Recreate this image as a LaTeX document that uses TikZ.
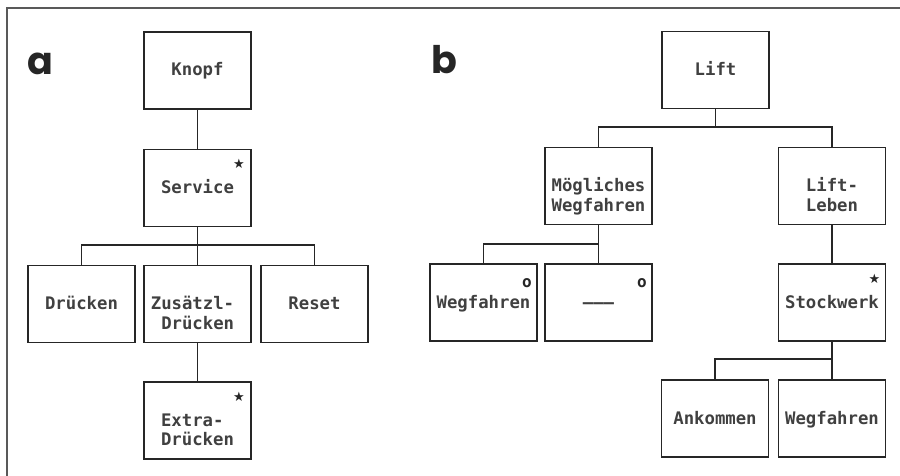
\documentclass[tikz,border=0pt]{standalone}
\usepackage{fontspec}
\setmonofont{DejaVu Sans Mono}
\newfontfamily\panelfont{Poppins}
\newfontfamily\symfont{DejaVu Sans}
\newcommand\firstline{\rule{0pt}{14pt}}
\begin{document}
\begin{tikzpicture}[x=1pt,y=-1pt,
  every node/.style={inner sep=0pt, outer sep=0pt},
  line/.style={line width=1.3pt, draw=black!85},
  box/.style={line, draw, minimum width=107pt, minimum height=77pt},
  txt/.style={font=\ttfamily\bfseries\fontsize{17.3}{19.5}\selectfont, text=black!75, anchor=north, align=left},
  star/.style={font=\symfont\fontsize{13}{13}\selectfont, text=black!85},
  ring/.style={font=\ttfamily\bfseries\fontsize{16}{16}\selectfont, text=black!85},
  panel/.style={font=\panelfont\bfseries\fontsize{38}{38}\selectfont, text=black!85, anchor=base}]
\useasboundingbox (0,0) rectangle (900,476);

% outer frame: top and left edges only
\draw[line width=2pt, draw=black!65] (900,8) -- (7,8) -- (7,476);

% panel letters
\node[panel] (lbla) at (40.5,75) {a};
\node[panel] (lblb) at (444.5,74) {b};

% ---------- tree a ----------
\node[box] (knopf)   at (197.5,70.5) {};
\node[box] (service) at (197.5,188)  {};
\node[box] (druck)   at (81.5,304)   {};
\node[box] (zusatz)  at (197.5,304)  {};
\node[box] (reset)   at (314.5,304)  {};
\node[box] (extra)   at (197.5,420.5){};

\node[txt] (t-knopf)   at ([yshift=-30pt]knopf.north)   {\firstline Knopf};
\node[txt] (t-service) at ([yshift=-30pt]service.north) {\firstline Service};
\node[txt] (t-druck)   at ([yshift=-30pt]druck.north)   {\firstline Drücken};
\node[txt, align=right] (t-zusatz) at ([xshift=-5pt,yshift=-30pt]zusatz.north) {\firstline Zusätzl-\\Drücken};
\node[txt] (t-reset)   at ([yshift=-30pt]reset.north)   {\firstline Reset};
\node[txt] (t-extra)   at ([yshift=-30pt]extra.north)   {\firstline Extra-\\Drücken};

\node[star] (s-service) at ([xshift=-12pt,yshift=-14pt]service.north east) {★};
\node[star] (s-extra)   at ([xshift=-12pt,yshift=-15pt]extra.north east)   {★};

\coordinate (bar-a) at (197.5,245);
\draw[line] (knopf) -- (service);
\draw[line] (service.south) -- (bar-a) -| (druck.north);
\draw[line] (bar-a) -| (reset.north);
\draw[line] (bar-a) -- (zusatz.north);
\draw[line] (zusatz) -- (extra);

% ---------- tree b ----------
\node[box] (lift)  at (715.5,70)    {};
\node[box] (moeg)  at (598.5,186)   {};
\node[box] (leben) at (832,186)     {};
\node[box] (weg1)  at (483.5,302.5) {};
\node[box] (leer)  at (598.5,302.5) {};
\node[box] (stock) at (832,302.5)   {};
\node[box] (ank)   at (715,418.5)   {};
\node[box] (weg2)  at (832,418.5)   {};

\node[txt] (t-lift)  at ([yshift=-30pt]lift.north)  {\firstline Lift};
\node[txt] (t-moeg)  at ([yshift=-30pt]moeg.north)  {\firstline Mögliches\\Wegfahren};
\node[txt] (t-leben) at ([yshift=-30pt]leben.north) {\firstline Lift-\\Leben};
\node[txt] (t-weg1)  at ([yshift=-30pt]weg1.north)  {\firstline Wegfahren};
\node[txt] (t-leer)  at ([yshift=-30pt]leer.north)  {\firstline ———};
\node[txt] (t-stock) at ([yshift=-30pt]stock.north) {\firstline Stockwerk};
\node[txt] (t-ank)   at ([yshift=-30pt]ank.north)   {\firstline Ankommen};
\node[txt] (t-weg2)  at ([yshift=-30pt]weg2.north)  {\firstline Wegfahren};

\node[ring] (r-weg1) at ([xshift=-10pt,yshift=-19pt]weg1.north east) {o};
\node[ring] (r-leer) at ([xshift=-10pt,yshift=-19pt]leer.north east) {o};
\node[star] (s-stock) at ([xshift=-11pt,yshift=-15pt]stock.north east) {★};

\coordinate (bar-lift)  at (715.5,127);
\coordinate (bar-moeg)  at (598.5,244);
\coordinate (bar-stock) at (832,359);
\draw[line] (lift.south) -- (bar-lift) -| (moeg.north);
\draw[line] (bar-lift) -| (leben.north);
\draw[line] (moeg.south) -- (bar-moeg) -| (weg1.north);
\draw[line] (bar-moeg) -- (leer.north);
\draw[line] (leben) -- (stock);
\draw[line] (stock.south) -- (bar-stock) -| (ank.north);
\draw[line] (bar-stock) -- (weg2.north);
\end{tikzpicture}
\end{document}
